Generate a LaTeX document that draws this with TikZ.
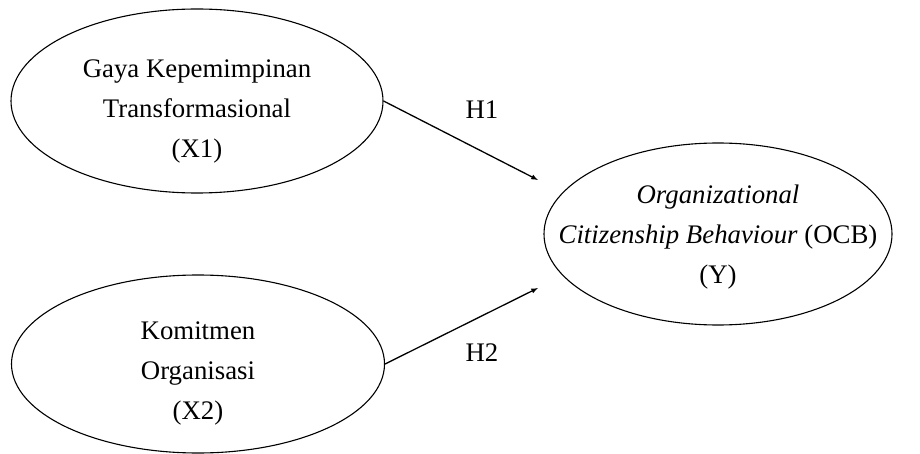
\documentclass[tikz,border=0pt]{standalone}
\usepackage{fontspec}
\setmainfont{Liberation Serif}
\usetikzlibrary{shapes.geometric}
\begin{document}
\begin{tikzpicture}
	[x=1pt,y=-1pt,>=latex,
	 latent/.style={ellipse,draw,line width=1.1pt,inner sep=0pt},
	 txt/.style={align=center,font=\fontsize{26.8}{40}\selectfont},
	 hyp/.style={font=\fontsize{26.8}{30}\selectfont}]
    \useasboundingbox (0,0) rectangle (920,454);
    \node[latent,minimum width=372,minimum height=184] (X1) at (197,101) {};
    \node[latent,minimum width=373,minimum height=178] (X2) at (198,364) {};
    \node[latent,minimum width=348,minimum height=182] (Y) at (718,234) {};
    \node[txt] (X1t) at (197,111) {Gaya Kepemimpinan\\Transformasional\\(X1)};
    \node[txt] (X2t) at (198,373) {Komitmen\\Organisasi\\(X2)};
    \node[txt] (Yt) at (718,237) {\textit{Organizational}\\\textit{Citizenship Behaviour} (OCB)\\(Y)};
    \coordinate (h1end) at (538,180);
    \coordinate (h2end) at (538,288);
    \draw [->,line width=1.3pt] (X1.east) -- (h1end);
    \draw [->,line width=1.3pt] (X2.east) -- (h2end);
    \node[hyp] (H1) at (482,110) {H1};
    \node[hyp] (H2) at (482,353) {H2};
\end{tikzpicture}
\end{document}
